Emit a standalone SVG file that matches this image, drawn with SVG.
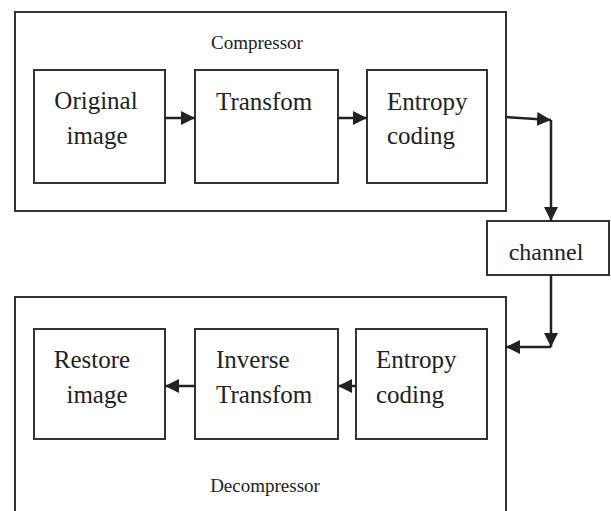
<svg xmlns="http://www.w3.org/2000/svg" width="611" height="511" viewBox="0 0 611 511">
<style>
.box{fill:#fff;stroke:#333;stroke-width:2}
.t{font-family:"Liberation Serif","Times New Roman",serif;fill:#222}
.lab{font-size:25px}
.cap{font-size:19px}
.c{fill:none;stroke:#222;stroke-width:2.5}
</style>
<defs>
<marker id="ah" markerUnits="userSpaceOnUse" markerWidth="14" markerHeight="14" refX="14" refY="7" orient="auto">
<path d="M0,0 L14,7 L0,14 z" fill="#222"/>
</marker>
</defs>
<rect width="611" height="511" fill="#fff"/>
<g id="compressor">
<rect class="box" x="15" y="12" width="491" height="199"/>
<text class="t cap" x="257" y="49" text-anchor="middle">Compressor</text>
</g>
<g id="original">
<rect class="box" x="34" y="70" width="131" height="113"/>
<text class="t lab" x="96" y="109" text-anchor="middle">Original</text>
<text class="t lab" x="97" y="144" text-anchor="middle">image</text>
</g>
<g id="transform">
<rect class="box" x="195" y="70" width="143" height="113"/>
<text class="t lab" x="216" y="110">Transfom</text>
</g>
<g id="entropy1">
<rect class="box" x="367" y="70" width="120" height="113"/>
<text class="t lab" x="387" y="110">Entropy</text>
<text class="t lab" x="387" y="144">coding</text>
</g>
<g id="channel">
<rect class="box" x="487" y="221" width="122" height="54"/>
<text class="t" font-size="24" x="546" y="260" text-anchor="middle">channel</text>
</g>
<g id="decompressor">
<rect class="box" x="15" y="297" width="491" height="240"/>
<text class="t cap" x="265" y="492" text-anchor="middle">Decompressor</text>
</g>
<g id="restore">
<rect class="box" x="34" y="329" width="131" height="110"/>
<text class="t lab" x="92" y="368" text-anchor="middle">Restore</text>
<text class="t lab" x="97" y="403" text-anchor="middle">image</text>
</g>
<g id="inverse">
<rect class="box" x="195" y="329" width="143" height="110"/>
<text class="t lab" x="216" y="368">Inverse</text>
<text class="t lab" x="216" y="403">Transfom</text>
</g>
<g id="entropy2">
<rect class="box" x="356" y="329" width="131" height="110"/>
<text class="t lab" x="376" y="368">Entropy</text>
<text class="t lab" x="376" y="403">coding</text>
</g>
<g id="connectors">
<line class="c" x1="165" y1="118" x2="195" y2="118" marker-end="url(#ah)"/>
<line class="c" x1="338" y1="118" x2="367" y2="118" marker-end="url(#ah)"/>
<line class="c" x1="506" y1="117" x2="551" y2="120" marker-end="url(#ah)"/>
<line class="c" x1="551" y1="120" x2="551" y2="221" marker-end="url(#ah)"/>
<line class="c" x1="551" y1="275" x2="551" y2="347" marker-end="url(#ah)"/>
<line class="c" x1="551" y1="347" x2="506" y2="347" marker-end="url(#ah)"/>
<line class="c" x1="356" y1="386" x2="338" y2="386" marker-end="url(#ah)"/>
<line class="c" x1="195" y1="386" x2="165" y2="386" marker-end="url(#ah)"/>
</g>
</svg>
